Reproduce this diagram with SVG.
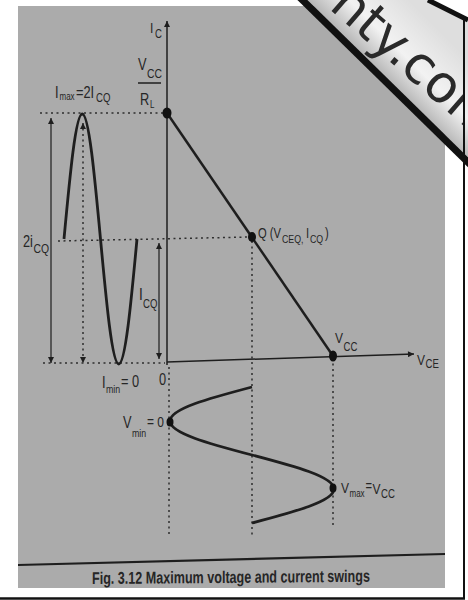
<svg xmlns="http://www.w3.org/2000/svg" width="468" height="600" viewBox="0 0 468 600">
<defs>
<marker id="ah" viewBox="0 0 10 10" refX="10" refY="5" markerUnits="userSpaceOnUse" markerWidth="10" markerHeight="6" orient="auto-start-reverse"><path d="M0,0 L10,5 L0,10 z" fill="#1e1e1e"/></marker>
<linearGradient id="bn" gradientUnits="userSpaceOnUse" x1="380" y1="71" x2="430" y2="21"><stop offset="0" stop-color="#b8b8b8"/><stop offset="0.4" stop-color="#f2f2f2"/><stop offset="1" stop-color="#dedede"/></linearGradient>
<clipPath id="bc"><polygon points="307.5,0 463,152.4 463,18 428,0"/></clipPath>
</defs>
<style>
.t{font-family:"Liberation Sans",Arial,sans-serif;fill:#262626}
.dot{stroke:#2e2e2e;stroke-width:1.5;stroke-dasharray:2 3.5;fill:none}
.ln{stroke:#1e1e1e;fill:none}
.pt{fill:#111}
</style>
<rect width="468" height="600" fill="#fff"/>
<rect x="18" y="6" width="427" height="582" fill="#ababab"/>

<g id="connectors">
  <line class="ln" x1="167" y1="365" x2="167" y2="21" stroke-width="1.5" marker-end="url(#ah)"/>
  <line class="ln" x1="167" y1="362" x2="414" y2="354" stroke-width="1.5" marker-end="url(#ah)"/>
  <line class="ln" x1="167" y1="113" x2="333" y2="356" stroke-width="2.5"/>
  <line class="dot" x1="40" y1="113" x2="165" y2="113"/>
  <line class="dot" x1="58" y1="241" x2="250" y2="237"/>
  <line class="dot" x1="43" y1="363" x2="165" y2="363"/>
  <line class="dot" x1="169" y1="367" x2="169" y2="537"/>
  <line class="dot" x1="252" y1="241" x2="252" y2="535"/>
  <line class="dot" x1="333" y1="358" x2="333" y2="527"/>
  <line class="ln" x1="51" y1="118" x2="51" y2="363" stroke-width="1.2" marker-start="url(#ah)" marker-end="url(#ah)"/>
  <line class="dot" x1="83" y1="123" x2="83" y2="363" marker-start="url(#ah)" marker-end="url(#ah)"/>
  <line class="ln" x1="159" y1="243" x2="159" y2="359" stroke-width="1.2" marker-start="url(#ah)" marker-end="url(#ah)"/>
  <path class="ln" stroke-width="2.8" d="M64,239 C69.95,175 75.65,114 82.25,114 C88.85,114 94.55,175 100.5,239 C106.45,303 112.15,364 118.75,364 C125.35,364 131.05,303 137,239"/>
  <path class="ln" stroke-width="2.8" d="M252,387 C210,398.1 170,408.7 170,421 C170,433.3 210,443.9 252,455 C294,466.1 334,476.7 334,489 C334,501.3 294,511.9 252,523"/>
  <line class="ln" x1="18" y1="565" x2="445" y2="554" stroke-width="2.2"/>
</g>

<g id="axis-ic">
  <text class="t" font-size="15" transform="matrix(0.8 0 0 1 150 33)">I</text>
  <text class="t" font-size="12" transform="matrix(0.8 0 0 1 155 38)">C</text>
</g>
<g id="point-vcc-rl">
  <ellipse class="pt" cx="167" cy="113" rx="4.5" ry="5.5"/>
  <text class="t" font-size="16" transform="matrix(0.8 0 0 1 138 70)">V</text>
  <text class="t" font-size="13" transform="matrix(0.8 0 0 1 147 78)">CC</text>
  <line class="ln" x1="138" y1="83" x2="161" y2="83" stroke-width="1.5"/>
  <text class="t" font-size="16" transform="matrix(0.8 0 0 1 140 105)">R</text>
  <text class="t" font-size="10" transform="matrix(0.8 0 0 1 150 108)">L</text>
</g>
<g id="label-imax">
  <text class="t" font-size="16" transform="matrix(0.8 0 0 1 55 98)">I</text>
  <text class="t" font-size="10" transform="matrix(0.8 0 0 1 59.5 100)">max</text>
  <text class="t" font-size="16" transform="matrix(0.8 0 0 1 76 98)">=2I</text>
  <text class="t" font-size="12" transform="matrix(0.8 0 0 1 96 102)">CQ</text>
</g>
<g id="label-2icq">
  <text class="t" font-size="16" transform="matrix(0.8 0 0 1 23 247)">2i</text>
  <text class="t" font-size="13" transform="matrix(0.8 0 0 1 33.5 253)">CQ</text>
</g>
<g id="label-icq">
  <text class="t" font-size="17" transform="matrix(0.8 0 0 1 139 300)">I</text>
  <text class="t" font-size="12" transform="matrix(0.8 0 0 1 143 308)">CQ</text>
</g>
<g id="label-imin">
  <text class="t" font-size="16" transform="matrix(0.8 0 0 1 102 388)">I</text>
  <text class="t" font-size="11" transform="matrix(0.8 0 0 1 106 393)">min</text>
  <text class="t" font-size="16" transform="matrix(0.8 0 0 1 121 387)">= 0</text>
</g>
<g id="label-origin">
  <text class="t" font-size="16" transform="matrix(0.8 0 0 1 159 385)">0</text>
</g>
<g id="point-q">
  <ellipse class="pt" cx="252" cy="237" rx="4" ry="5"/>
  <text class="t" font-size="14" transform="matrix(0.8 0 0 1 258 238)">Q (V</text>
  <text class="t" font-size="11" transform="matrix(0.8 0 0 1 282 243)">CEQ,</text>
  <text class="t" font-size="14" transform="matrix(0.8 0 0 1 306 238)">I</text>
  <text class="t" font-size="11" transform="matrix(0.8 0 0 1 310 243)">CQ</text>
  <text class="t" font-size="14" transform="matrix(0.8 0 0 1 325 238)">)</text>
</g>
<g id="point-vcc">
  <ellipse class="pt" cx="333" cy="356" rx="4" ry="5.5"/>
  <text class="t" font-size="15" transform="matrix(0.8 0 0 1 335 343)">V</text>
  <text class="t" font-size="12" transform="matrix(0.8 0 0 1 343.5 351)">CC</text>
</g>
<g id="axis-vce">
  <text class="t" font-size="15" transform="matrix(0.8 0 0 1 417 365)">V</text>
  <text class="t" font-size="12" transform="matrix(0.8 0 0 1 425.5 368)">CE</text>
</g>
<g id="point-vmin">
  <ellipse class="pt" cx="170" cy="422" rx="3.5" ry="4.5"/>
  <text class="t" font-size="16" transform="matrix(0.8 0 0 1 123 428)">V</text>
  <text class="t" font-size="11" transform="matrix(0.8 0 0 1 132 437)">min</text>
  <text class="t" font-size="15" transform="matrix(0.8 0 0 1 147 427)">= 0</text>
</g>
<g id="point-vmax">
  <ellipse class="pt" cx="333" cy="488" rx="3.5" ry="4.5"/>
  <text class="t" font-size="15" transform="matrix(0.8 0 0 1 341 493)">V</text>
  <text class="t" font-size="10" transform="matrix(0.8 0 0 1 349.5 497)">max</text>
  <text class="t" font-size="14" transform="matrix(0.8 0 0 1 365.5 491)">=</text>
  <text class="t" font-size="15" transform="matrix(0.8 0 0 1 372.5 494)">V</text>
  <text class="t" font-size="12" transform="matrix(0.8 0 0 1 381 498)">CC</text>
</g>
<g id="caption">
  <text class="t" font-size="17" font-weight="bold" fill="#1e1e1e" transform="matrix(0.74 -0.006 0 1 92 584)">Fig. 3.12 Maximum voltage and current swings</text>
</g>

<g id="watermark">
  <polygon points="307.5,0 468,157.3 468,20 428,0" fill="url(#bn)"/>
  <polygon points="297.4,0 307.5,0 468,157.3 468,167.3" fill="#111"/>
  <line x1="428" y1="0" x2="468" y2="20" stroke="#111" stroke-width="5"/>
  <g clip-path="url(#bc)">
    <text x="0" y="0" font-family="DejaVu Sans, sans-serif" font-size="52" fill="#2a2a2a" transform="translate(328,8) rotate(41)">nty.com</text>
  </g>
</g>
<g id="frame">
  <line x1="464" y1="17" x2="464" y2="599" stroke="#111" stroke-width="2"/>
  <line x1="0" y1="598.5" x2="465" y2="598.5" stroke="#111" stroke-width="2.5"/>
</g>
</svg>
